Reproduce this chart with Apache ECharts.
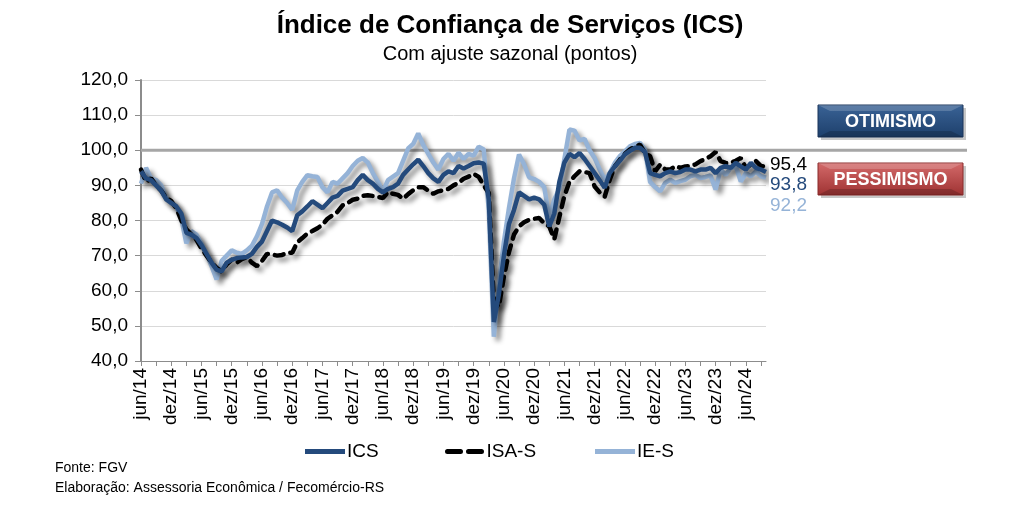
<!DOCTYPE html>
<html><head><meta charset="utf-8">
<script src="https://cdn.jsdelivr.net/npm/echarts@6/dist/echarts.min.js"></script>
<style>html,body{margin:0;padding:0;background:#fff}#c{width:1024px;height:512px}</style>
</head><body><div id="c"></div>
<script>
// Categories: monthly from jun/14 to out/24
const monthNames = ['jan','fev','mar','abr','mai','jun','jul','ago','set','out','nov','dez'];
const categories = [];
for (let y = 14; y <= 24; y++) {
  for (let m = 0; m < 12; m++) {
    if (y === 14 && m < 5) continue;
    if (y === 24 && m > 9) continue;
    categories.push(monthNames[m] + '/' + y);
  }
}
const ICS = [
94.0,92.0,91.5,90.0,88.5,86.0,85.0,84.0,82.0,76.5,76.0,75.0,73.0,70.5,68.0,66.0,65.5,68.0,68.8,69.3,
69.5,69.6,70.5,72.5,74.0,77.0,80.0,79.5,78.8,78.0,77.0,81.5,82.6,84.0,85.5,84.5,83.5,85.0,86.5,87.0,
88.5,89.0,89.5,91.5,93.0,91.5,90.5,89.0,88.0,89.0,89.5,90.5,93.0,94.5,96.0,97.3,95.5,93.5,92.0,91.0,
93.0,94.0,93.5,95.5,94.8,95.5,96.3,96.5,96.2,86.0,51.1,59.0,70.0,79.0,83.0,88.0,87.0,86.0,86.5,86.0,
84.5,78.3,82.0,91.0,96.5,99.0,98.0,99.2,97.5,95.5,93.5,91.5,89.3,93.5,95.4,97.0,98.8,99.8,100.7,100.7,
99.5,93.5,93.0,92.6,93.5,94.0,93.5,93.8,94.5,94.5,94.0,94.5,94.5,95.0,93.5,95.0,95.5,95.0,96.4,95.4,
94.5,96.4,95.0,94.5,93.8];
const ISA_S = [
94.5,91.0,92.0,90.0,88.5,86.5,85.5,83.5,80.0,77.5,76.0,74.5,72.0,70.0,68.0,66.5,65.5,67.5,68.8,68.0,
69.0,69.6,68.0,67.0,68.5,70.5,70.3,70.0,70.2,70.8,70.8,73.8,75.0,76.3,77.0,77.8,78.8,80.5,81.5,82.5,
84.3,85.0,85.9,86.2,87.0,87.2,87.0,86.7,86.4,88.1,87.6,87.3,86.2,87.5,88.6,89.5,89.5,88.5,87.6,88.3,
88.6,89.0,90.0,90.7,91.9,92.5,93.3,92.4,90.0,87.8,57.0,55.5,64.0,71.0,76.0,78.3,79.5,80.2,80.5,80.7,
79.2,78.3,74.7,81.0,87.0,91.0,92.6,94.0,93.8,93.5,89.7,88.0,86.8,91.6,95.4,97.3,99.0,100.2,101.0,101.6,
99.2,98.3,94.0,95.9,94.5,94.5,95.5,95.0,95.4,95.5,96.0,96.9,97.5,98.3,99.5,96.9,96.4,96.4,97.0,97.8,
95.0,95.9,96.9,95.5,95.4];
const IE_S = [
90.5,95.0,92.0,91.5,90.0,86.5,85.0,84.0,80.5,73.5,77.0,76.0,73.5,70.5,67.0,63.2,68.5,70.0,71.5,70.8,
70.5,71.5,72.8,75.5,79.0,84.0,88.0,88.6,86.5,85.0,83.0,88.6,91.0,92.9,92.6,92.4,89.5,88.0,91.0,90.5,
92.0,93.5,95.5,97.0,97.8,96.5,93.5,91.0,88.3,91.5,92.5,93.5,97.0,100.5,101.8,104.8,101.5,99.0,96.5,94.5,
97.5,99.0,97.0,99.3,97.5,99.0,98.5,101.0,100.2,83.0,46.9,62.0,74.0,83.5,92.0,98.8,96.0,92.3,91.8,91.0,
89.5,81.0,86.0,89.0,97.5,105.9,105.6,102.8,103.2,100.0,97.8,94.5,91.6,93.5,96.4,98.3,99.7,101.1,101.8,102.1,
100.2,91.0,89.5,88.3,90.7,91.6,90.7,91.2,91.6,92.6,93.0,92.1,92.4,92.8,88.8,94.5,93.0,95.0,95.4,91.1,
93.5,92.6,94.0,92.6,92.2];
const yTicks = {min: 40, max: 120, step: 10};
const refLevel = 100;

const FONT = 'Liberation Sans, Arial, sans-serif';
const chart = echarts.init(document.getElementById('c'), null, {renderer: 'canvas'});
const shadow = {shadowColor: 'rgba(0,0,0,0.45)', shadowBlur: 5, shadowOffsetX: 4, shadowOffsetY: 4};
const fmt = v => v.toFixed(1).replace('.', ',');
const solidIcon = 'path://M0,0 H40 V5 H0 Z';
const dashIcon = 'path://M2,0 H15 A2.5,2.5 0 0 1 15,5 H2 A2.5,2.5 0 0 1 2,0 Z M23,0 H36 A2.5,2.5 0 0 1 36,5 H23 A2.5,2.5 0 0 1 23,0 Z';
const legendBase = {top: 437, itemWidth: 40, itemHeight: 5, itemGap: 2,
  textStyle: {fontFamily: FONT, fontSize: 19, color: '#000', padding: [0, 0, 0, -3]}};

const option = {
  animation: false,
  backgroundColor: '#fff',
  title: {
    text: 'Índice de Confiança de Serviços (ICS)',
    subtext: 'Com ajuste sazonal (pontos)',
    left: 505, top: 8, textAlign: 'center', itemGap: 5,
    textStyle: {fontFamily: FONT, fontSize: 26, fontWeight: 'bold', color: '#000'},
    subtextStyle: {fontFamily: FONT, fontSize: 20, color: '#000'}
  },
  grid: {left: 141, right: 258, top: 80, bottom: 151, containLabel: false},
  legend: [
    Object.assign({left: 300, data: [{name: 'ICS', icon: solidIcon}]}, legendBase),
    Object.assign({left: 440, data: [{name: 'ISA-S', icon: dashIcon}]}, legendBase),
    Object.assign({left: 590, data: [{name: 'IE-S', icon: solidIcon}]}, legendBase)
  ],
  xAxis: {
    type: 'category', data: categories, boundaryGap: false,
    axisLine: {lineStyle: {color: '#8c8c8c', width: 1}},
    axisTick: {interval: 2, length: 5, lineStyle: {color: '#8c8c8c'}},
    axisLabel: {interval: 5, rotate: 90, fontFamily: FONT, fontSize: 19, color: '#000', margin: 7},
    splitLine: {show: false}
  },
  yAxis: {
    type: 'value', min: yTicks.min, max: yTicks.max, interval: yTicks.step,
    axisLine: {show: true, lineStyle: {color: '#8c8c8c', width: 2}},
    axisTick: {show: true, length: 6, lineStyle: {color: '#8c8c8c'}},
    axisLabel: {formatter: v => fmt(v), fontFamily: FONT, fontSize: 19, color: '#000', margin: 13},
    splitLine: {lineStyle: {color: '#d9d9d9', width: 1}}
  },
  series: [
    {name: 'ICS', type: 'line', data: ICS, symbol: 'none', z: 4,
     lineStyle: Object.assign({color: '#244a7c', width: 4.5}, shadow), itemStyle: {color: '#244a7c'},
     endLabel: {show: true, formatter: p => fmt(p.value), fontFamily: FONT, fontSize: 19, color: '#244a7c', offset: [0, 13], distance: 4}},
    {name: 'ISA-S', type: 'line', data: ISA_S, symbol: 'none', z: 3,
     lineStyle: Object.assign({color: '#000', width: 4.5, type: [9, 7], cap: 'round'}, shadow), itemStyle: {color: '#000'},
     endLabel: {show: true, formatter: p => fmt(p.value), fontFamily: FONT, fontSize: 19, color: '#000', offset: [0, -2], distance: 4}},
    {name: 'IE-S', type: 'line', data: IE_S, symbol: 'none', z: 2,
     lineStyle: Object.assign({color: '#95b3d7', width: 4.5}, shadow), itemStyle: {color: '#95b3d7'},
     endLabel: {show: true, formatter: p => fmt(p.value), fontFamily: FONT, fontSize: 19, color: '#95b3d7', offset: [0, 28], distance: 4}}
  ]
};
chart.setOption(option);

// reference line at 100, positioned through the axis scale and extended to the right
const y100 = chart.convertToPixel({yAxisIndex: 0}, refLevel);
const x0 = chart.convertToPixel({xAxisIndex: 0}, 0);
function btn(x, y, w, h, top, bot, edge, label) {
  return {type: 'group', children: [
    {type: 'rect', shape: {x: x + 3, y: y + 3, width: w, height: h}, style: {fill: 'rgba(0,0,0,0.22)'}},
    {type: 'rect', shape: {x: x, y: y, width: w, height: h},
     style: {fill: new echarts.graphic.LinearGradient(0, 0, 0, 1, [{offset: 0, color: top}, {offset: 1, color: bot}]), stroke: edge, lineWidth: 1}},
    {type: 'polygon', shape: {points: [[x, y], [x + w, y], [x + w - 12, y + 6], [x + 12, y + 6]]}, style: {fill: 'rgba(255,255,255,0.18)'}},
    {type: 'polygon', shape: {points: [[x, y + h], [x + w, y + h], [x + w - 12, y + h - 6], [x + 12, y + h - 6]]}, style: {fill: 'rgba(0,0,0,0.18)'}},
    {type: 'text', style: {x: x + w / 2, y: y + h / 2 + 1, text: label, align: 'center', verticalAlign: 'middle',
      fill: '#fff', font: 'bold 18px ' + FONT}}
  ]};
}
chart.setOption({graphic: [
  {type: 'line', z: 1, shape: {x1: x0, y1: y100, x2: 967, y2: y100}, style: {stroke: '#a6a6a6', lineWidth: 3}},
  btn(818, 105, 145, 32, '#3a6396', '#1d3f6b', '#1a355a', 'OTIMISMO'),
  btn(818, 163, 145, 32, '#d46a6a', '#9e3232', '#8a2a2a', 'PESSIMISMO'),
  {type: 'text', style: {x: 55, y: 461, text: 'Fonte: FGV', font: '14px ' + FONT, fill: '#000'}},
  {type: 'text', style: {x: 55, y: 481, text: 'Elaboração: Assessoria Econômica / Fecomércio-RS', font: '14px ' + FONT, fill: '#000'}}
]});
</script>
</body></html>
